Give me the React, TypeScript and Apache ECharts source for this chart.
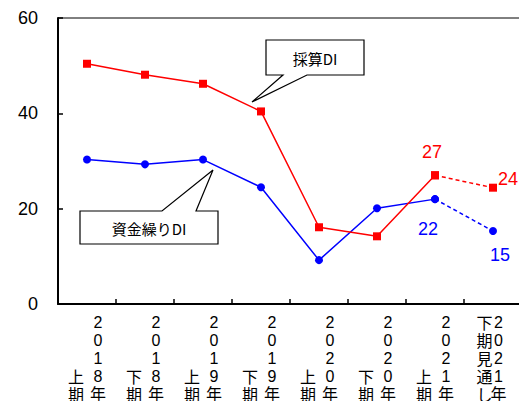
import React, { useEffect, useRef } from "react";
import * as echarts from "echarts";

const categories = [
  "2018年上期",
  "2018年下期",
  "2019年上期",
  "2019年下期",
  "2020年上期",
  "2020年下期",
  "2021年上期",
  "2021年下期見通し",
];
// 採算DI
const profitActual = [50.4, 48.1, 46.2, 40.4, 16.1, 14.2, 27.0, null];
const profitForecast = [null, null, null, null, null, null, 27.0, 24.4];
// 資金繰りDI
const cashActual = [30.3, 29.3, 30.3, 24.5, 9.2, 20.1, 22.0, null];
const cashForecast = [null, null, null, null, null, null, 22.0, 15.3];
const yTicks = [0, 20, 40, 60];

const FONT = '"Liberation Sans", Arial, "Noto Sans CJK JP", sans-serif';
const JFONT = '"Noto Sans CJK JP", "Liberation Sans", sans-serif';
const SP = "\u3000";

function fmtCategory(c: string, idx: number) {
  const m = c.match(/^(\d{4})年(.*)$/);
  const year = m ? m[1] : "";
  const rest = m ? m[2] : "";
  const right = [...year, "年"];
  const leftChars = [...rest];
  const rows = right.length;
  const left: string[] = [];
  if (leftChars.length >= rows) {
    for (let i = 0; i < rows; i++) left.push(leftChars[i]);
  } else {
    for (let i = 0; i < rows - leftChars.length; i++) left.push(SP);
    left.push(...leftChars);
  }
  const last = idx === categories.length - 1;
  return right
    .map((r, i) =>
      last
        ? `{l2|${left[i]}}{r2|${r}}{p|${SP}}`
        : `{l|${left[i]}}{r|${r}}`
    )
    .join("\n");
}

export default function App() {
  const ref = useRef<HTMLDivElement>(null);
  useEffect(() => {
    if (!ref.current) return;
    const chart = echarts.init(ref.current, undefined, { renderer: "svg" });
    const dataLabel = (pos: string, distance: number, offset: number[], color: string) => ({
      show: true,
      position: pos,
      distance,
      offset,
      color,
      fontSize: 18,
      fontFamily: FONT,
      formatter: (p: any) => String(Math.round(p.value)),
    });
    const withLabels = (arr: (number | null)[], labels: Record<number, any>) =>
      arr.map((v, i) => {
        if (v === null) return "-";
        if (labels[i]) return { value: v, label: labels[i] };
        return { value: v, label: { show: false } };
      });

    chart.setOption({
      animation: false,
      textStyle: { fontFamily: FONT },
      grid: {
        left: 58,
        top: 18,
        width: 464,
        height: 286,
        show: true,
        borderColor: "#000",
        borderWidth: 1,
        containLabel: false,
        outerBoundsMode: "none",
      },
      xAxis: {
        type: "category",
        data: categories,
        boundaryGap: true,
        axisLine: { lineStyle: { color: "#000", width: 2 } },
        axisTick: { show: true, inside: true, length: 5, interval: 0, lineStyle: { color: "#000", width: 1.5 } },
        axisLabel: {
          interval: 0,
          margin: 9,
          color: "#000",
          lineHeight: 18,
          formatter: (v: string) => fmtCategory(v, categories.indexOf(v)),
          rich: {
            l: { width: 22, align: "center", fontSize: 16, fontFamily: JFONT, lineHeight: 18, color: "#000" },
            r: { width: 22, align: "center", fontSize: 16, fontFamily: FONT, lineHeight: 18, color: "#000" },
            l2: { width: 14, align: "center", fontSize: 16, fontFamily: JFONT, lineHeight: 18, color: "#000" },
            r2: { width: 14, align: "center", fontSize: 16, fontFamily: FONT, lineHeight: 18, color: "#000" },
            p: { width: 3, fontSize: 16, lineHeight: 18 },
          },
        },
        splitLine: { show: false },
      },
      yAxis: {
        type: "value",
        min: yTicks[0],
        max: yTicks[yTicks.length - 1],
        interval: 20,
        axisLine: { show: true, lineStyle: { color: "#000", width: 2 } },
        axisTick: { show: true, inside: true, length: 5, lineStyle: { color: "#000", width: 1.5 } },
        axisLabel: { margin: 20, color: "#000", fontSize: 18, fontFamily: FONT },
        splitLine: { show: false },
      },
      series: [
        {
          name: "採算DI",
          type: "line",
          data: profitActual.map((v) => (v === null ? "-" : v)),
          symbol: "rect",
          symbolSize: 8,
          itemStyle: { color: "#ff0000" },
          lineStyle: { color: "#ff0000", width: 1.5 },
          z: 3,
        },
        {
          name: "採算DI見通し",
          type: "line",
          data: withLabels(profitForecast, {
            6: dataLabel("top", 10, [-3, 0], "#ff0000"),
            7: dataLabel("right", 1, [0, -9], "#ff0000"),
          }),
          symbol: "rect",
          symbolSize: 8,
          itemStyle: { color: "#ff0000" },
          lineStyle: { color: "#ff0000", width: 1.5, type: [4, 3] },
          z: 3,
        },
        {
          name: "資金繰りDI",
          type: "line",
          data: cashActual.map((v) => (v === null ? "-" : v)),
          symbol: "circle",
          symbolSize: 8,
          itemStyle: { color: "#0000ff" },
          lineStyle: { color: "#0000ff", width: 1.5 },
          z: 2,
        },
        {
          name: "資金繰りDI見通し",
          type: "line",
          data: withLabels(cashForecast, {
            6: dataLabel("bottom", 17, [-7, 0], "#0000ff"),
            7: dataLabel("bottom", 11, [7, 0], "#0000ff"),
          }),
          symbol: "circle",
          symbolSize: 8,
          itemStyle: { color: "#0000ff" },
          lineStyle: { color: "#0000ff", width: 1.5, type: [4, 3] },
          z: 2,
        },
      ],
      graphic: [
        {
          type: "polygon",
          z: 10,
          shape: {
            points: [
              [266, 40],
              [364, 40],
              [364, 75],
              [307, 75],
              [252, 102],
              [283, 75],
              [266, 75],
            ],
          },
          style: { fill: "#fff", stroke: "#000", lineWidth: 1.2 },
        },
        {
          type: "text",
          z: 11,
          x: 315,
          y: 58,
          style: {
            text: "採算DI",
            fontSize: 15,
            fontFamily: JFONT,
            fill: "#000",
            align: "center",
            verticalAlign: "middle",
          },
        },
        {
          type: "polygon",
          z: 10,
          shape: {
            points: [
              [80, 211],
              [162, 211],
              [213, 170],
              [196, 211],
              [218, 211],
              [218, 244],
              [80, 244],
            ],
          },
          style: { fill: "#fff", stroke: "#000", lineWidth: 1.2 },
        },
        {
          type: "text",
          z: 11,
          x: 149,
          y: 228,
          style: {
            text: "資金繰りDI",
            fontSize: 15,
            fontFamily: JFONT,
            fill: "#000",
            align: "center",
            verticalAlign: "middle",
          },
        },
      ],
    });
    return () => chart.dispose();
  }, []);
  return <div ref={ref} style={{ width: 519, height: 401, position: "absolute", left: 0, top: 0 }} />;
}
